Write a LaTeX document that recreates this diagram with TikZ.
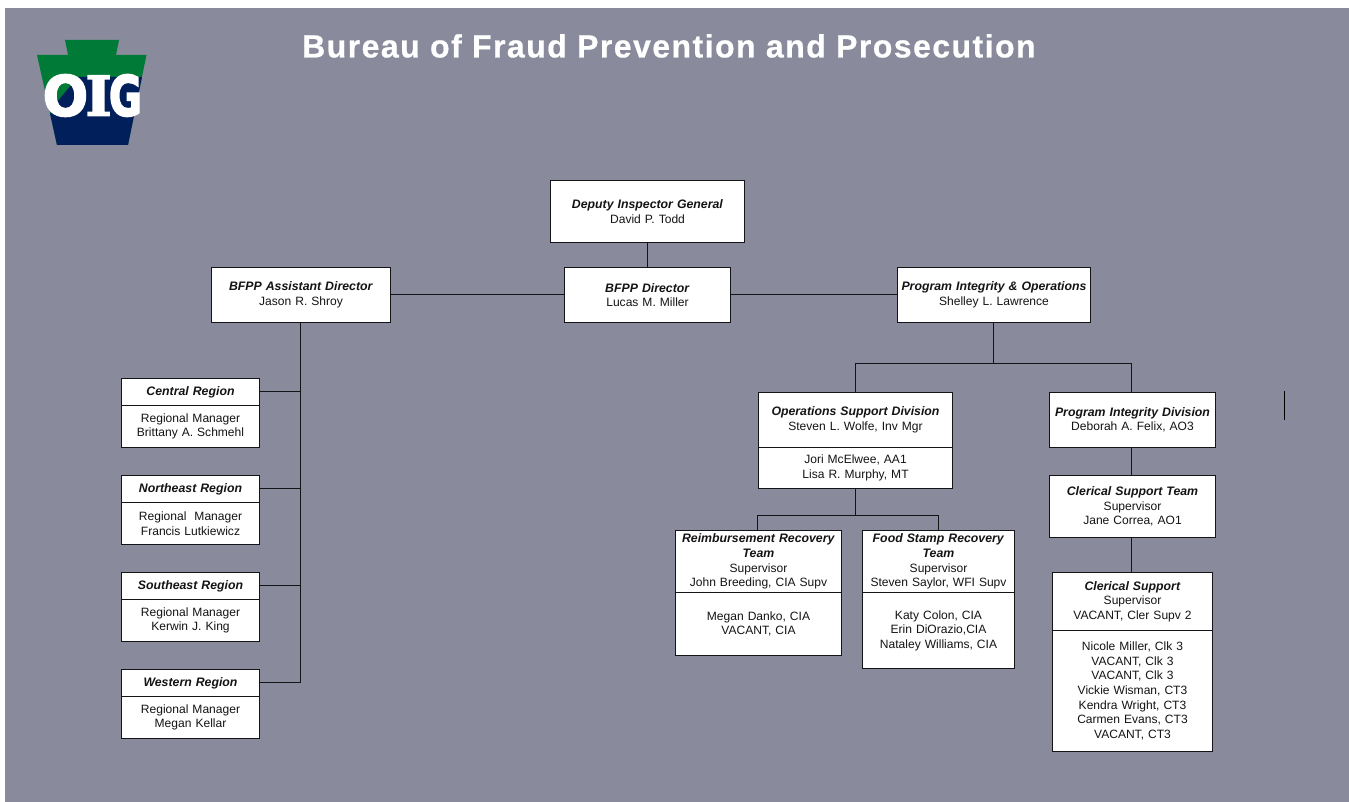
\documentclass[tikz,border=0pt]{standalone}
\usepackage{fontspec}
\setmainfont{Liberation Sans}
\newfontfamily\titlefont[LetterSpace=4.55,BoldFeatures={FakeBold=0.6}]{Liberation Sans}
\newfontfamily\logoserif[BoldFeatures={FakeBold=3}]{DejaVu Serif}
\newfontfamily\logosans[BoldFeatures={FakeBold=3.5}]{DejaVu Sans}
\definecolor{bgc}{RGB}{137,139,156}
\definecolor{kgreen}{RGB}{0,122,55}
\definecolor{knavy}{RGB}{0,31,91}
\definecolor{inkc}{RGB}{20,20,22}
\tikzset{
  box/.style n args={4}{draw=inkc,line width=1pt,fill=white,inner sep=0pt,outer sep=0pt,
    text=inkc,align=center,anchor=north west,font=\fontsize{12.05}{14.6}\selectfont,
    at={(#1+0.5,#2+0.5)},minimum width=#3*1pt,minimum height=#4*1pt,text width=#3*1pt-2pt,
    execute at end node={\par\vskip-3pt}},
  link/.style={draw=inkc,line width=1pt}
}
\newcommand{\hd}[1]{{\fontsize{12.3}{14.6}\selectfont\textbf{\textit{#1}}}}
\newcommand{\nudge}[1]{\par\vskip#1pt}
\begin{document}
\begin{tikzpicture}[x=1pt,y=-1pt]
\useasboundingbox (0,0) rectangle (1349,802);
\fill[white] (0,0) rectangle (1349,802);
\fill[bgc] (5,8) rectangle (1349,802);
% logo
\begin{scope}
\clip (65,40)--(119,40)--(116,55)--(146.5,55)--(128,145)--(57,145)--(37,55)--(68,55)--cycle;
\fill[kgreen] (30,35) rectangle (150,150);
\fill[knavy] (48,118)--(56,103)--(78,77)--(145,77)--(145,150)--(48,150)--cycle;
\end{scope}
\node[inner sep=0pt,text=white,anchor=center] (logo) at (92.5,95.5) {\bfseries\resizebox{45pt}{41pt}{\logosans O}\hspace{-2.5pt}\resizebox{26pt}{40pt}{\logoserif I}\hspace{-2.5pt}\resizebox{33pt}{41pt}{\logosans G}};
\node[inner sep=0pt,text=white,anchor=west,font=\titlefont\fontsize{32}{36}\selectfont\bfseries] (title) at (302,46) {Bureau of Fraud Prevention and Prosecution};
% boxes
\node[box={550}{180}{194}{62}] (dep) {\hd{Deputy Inspector General}\\David P. Todd\nudge{3}};
\node[box={564}{267}{166}{55}] (dir) {\hd{BFPP Director}\\Lucas M. Miller};
\node[box={211}{267}{179}{55}] (asst) {\hd{BFPP Assistant Director}\\Jason R. Shroy};
\node[box={897}{267}{193}{55}] (pio) {\hd{Program Integrity \& Operations}\\Shelley L. Lawrence};
\node[box={121}{378}{138}{27}] (cen) {\hd{Central Region}};
\node[box={121}{405}{138}{42}] (cenb) {Regional Manager\\Brittany A. Schmehl};
\node[box={121}{475}{138}{27}] (ne) {\hd{Northeast Region}};
\node[box={121}{502}{138}{42}] (neb) {Regional\ \ Manager\\Francis Lutkiewicz};
\node[box={121}{572}{138}{27}] (se) {\hd{Southeast Region}};
\node[box={121}{599}{138}{42}] (seb) {Regional Manager\\Kerwin J. King};
\node[box={121}{669}{138}{27}] (we) {\hd{Western Region}};
\node[box={121}{696}{138}{42}] (web) {Regional Manager\\Megan Kellar};
\node[box={758}{392}{194}{55}] (ops) {\hd{Operations Support Division}\\Steven L. Wolfe, Inv Mgr};
\node[box={758}{447}{194}{41}] (opsb) {Jori McElwee, AA1\\Lisa R. Murphy, MT};
\node[box={1049}{392}{166}{55}] (pid) {\hd{Program Integrity Division}\\Deborah A. Felix, AO3};
\node[box={1049}{475}{166}{62}] (cst) {\hd{Clerical Support Team}\\Supervisor\\Jane Correa, AO1};
\node[box={1052}{572}{160}{58}] (cs) {\hd{Clerical Support}\\Supervisor\\VACANT, Cler Supv 2\nudge{-3}};
\node[box={1052}{630}{160}{121}] (csb) {Nicole Miller, Clk 3\\VACANT, Clk 3\\VACANT, Clk 3\\Vickie Wisman, CT3\\Kendra Wright, CT3\\Carmen Evans, CT3\\VACANT, CT3\nudge{-1}};
\node[box={675}{530}{166}{62}] (rr) {\hd{Reimbursement Recovery}\\\hd{Team}\\Supervisor\\John Breeding, CIA Supv\nudge{-1}};
\node[box={675}{592}{166}{63}] (rrb) {Megan Danko, CIA\\VACANT, CIA};
\node[box={862}{530}{152}{62}] (fs) {\hd{Food Stamp Recovery}\\\hd{Team}\\Supervisor\\Steven Saylor, WFI Supv\nudge{-1}};
\node[box={862}{592}{152}{76}] (fsb) {Katy Colon, CIA\\Erin DiOrazio,CIA\\Nataley Williams, CIA};
% connectors
\draw[link] (dep) -- (dir);
\draw[link] ([yshift=.5pt]asst.east) -- ([yshift=.5pt]dir.west);
\draw[link] ([yshift=.5pt]dir.east) -- ([yshift=.5pt]pio.west);
\coordinate (spine) at (300.5,330);
\coordinate (wr) at ([yshift=.5pt]we.east);
\draw[link] (spine |- asst.south) -- (spine |- wr) -- (wr);
\draw[link] ([yshift=.5pt]cen.east) -- ([yshift=.5pt]cen.east -| spine);
\draw[link] ([yshift=.5pt]ne.east) -- ([yshift=.5pt]ne.east -| spine);
\draw[link] ([yshift=.5pt]se.east) -- ([yshift=.5pt]se.east -| spine);
\coordinate (jpio) at (993.5,363.5);
\draw[link] (jpio |- pio.south) -- (jpio);
\coordinate (jpid) at ([xshift=-1pt]pid.south);
\draw[link] (ops.north) |- (jpio) -| (jpid |- pid.north);
\coordinate (jops) at (855.5,515.5);
\draw[link] (opsb.south) -- (jops);
\coordinate (jrr) at ([xshift=-1pt]rr.north);
\draw[link] (jrr) |- (jops) -| (fs.north);
\draw[link] (jpid) -- (jpid |- cst.north);
\draw[link] (jpid |- cst.south) -- (jpid |- cs.north);
\coordinate (s1) at (1284.5,391);
\coordinate (s2) at (1284.5,419.5);
\draw[draw=black,line width=1pt] (s1) -- (s2);
\end{tikzpicture}
\end{document}
